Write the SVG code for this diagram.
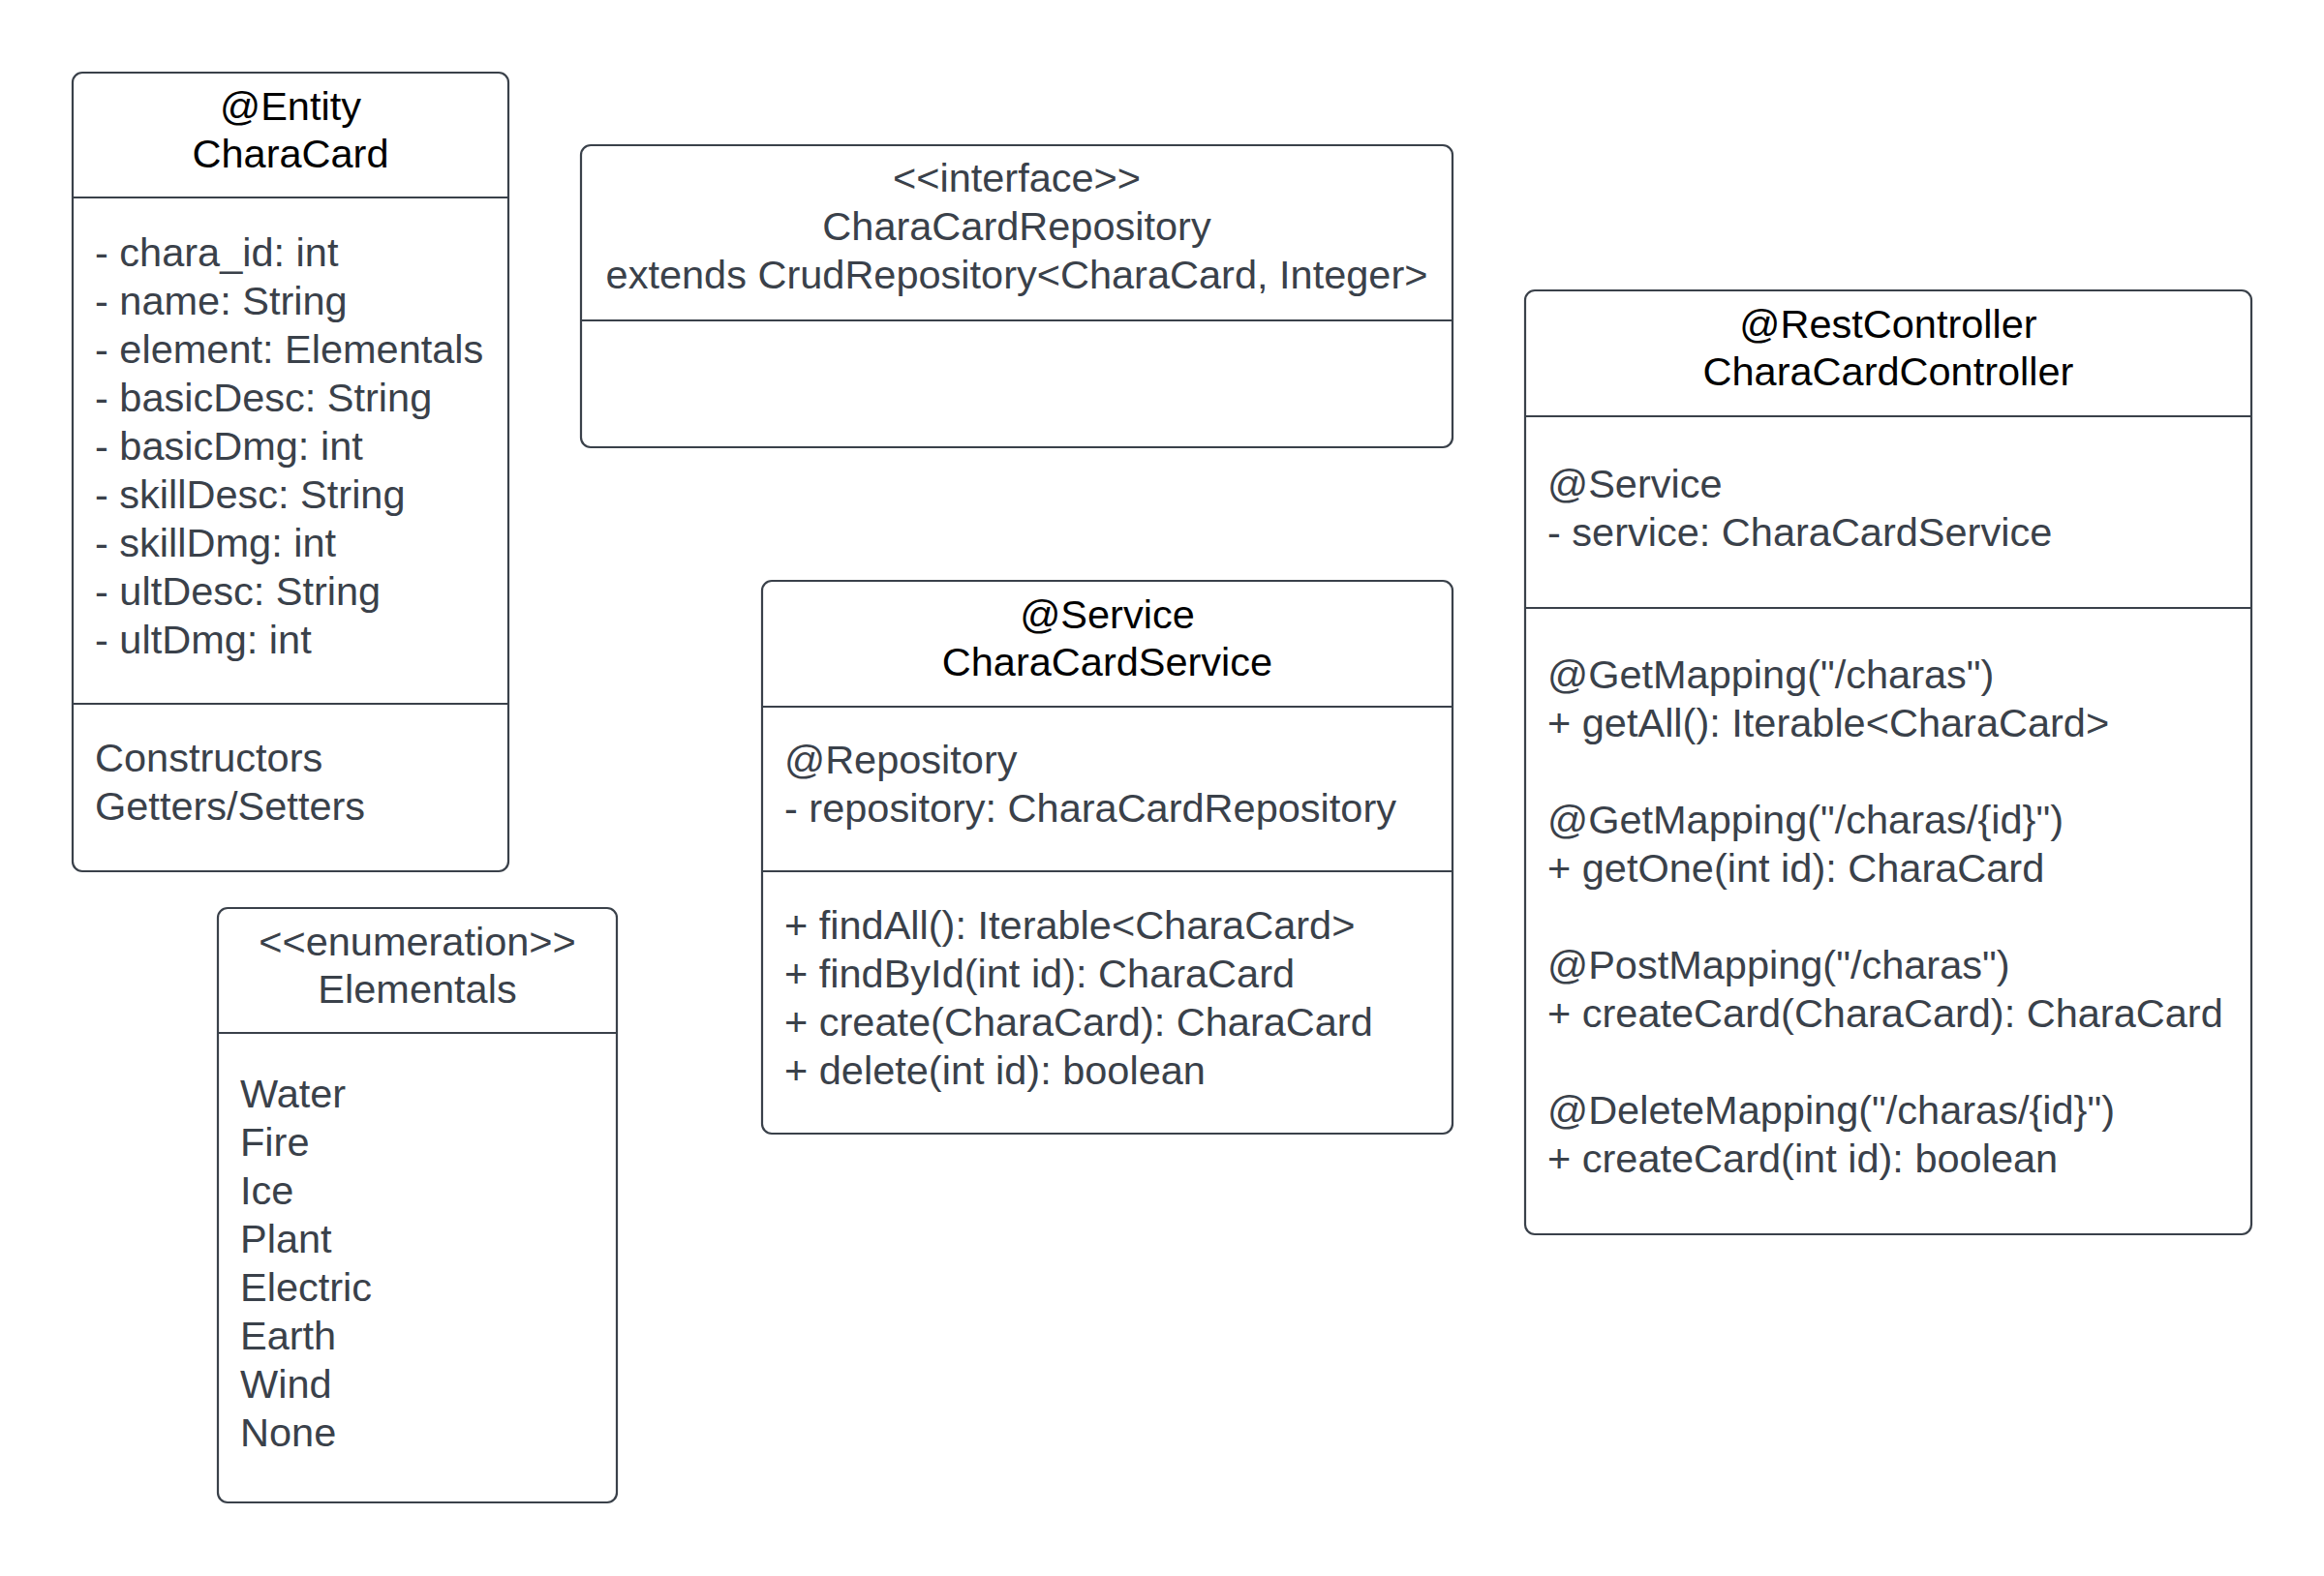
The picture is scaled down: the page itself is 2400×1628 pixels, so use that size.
<svg xmlns="http://www.w3.org/2000/svg" width="2400" height="1628" viewBox="0 0 2400 1628">
<style>
.box{fill:#ffffff;stroke:#3a414a;stroke-width:2.2}
.div{stroke:#3a414a;stroke-width:2.2}
.h{font-family:"Liberation Sans",Arial,sans-serif;font-size:41.5px;fill:#000000;text-anchor:middle}
.hg{font-family:"Liberation Sans",Arial,sans-serif;font-size:41.5px;fill:#3a414a;text-anchor:middle}
.t{font-family:"Liberation Sans",Arial,sans-serif;font-size:41.5px;fill:#3a414a}
</style>
<rect width="2400" height="1628" fill="#ffffff"/>
<g id="connectors"></g>
<g id="charaCard">
<rect class="box" x="75" y="75" width="450" height="825" rx="10"/>
<line class="div" x1="75" y1="204" x2="525" y2="204"/>
<line class="div" x1="75" y1="727" x2="525" y2="727"/>
<text class="h" x="300" y="124">@Entity</text>
<text class="h" x="300" y="173">CharaCard</text>
<text class="t" x="98" y="275">- chara_id: int</text>
<text class="t" x="98" y="325">- name: String</text>
<text class="t" x="98" y="375">- element: Elementals</text>
<text class="t" x="98" y="425">- basicDesc: String</text>
<text class="t" x="98" y="475">- basicDmg: int</text>
<text class="t" x="98" y="525">- skillDesc: String</text>
<text class="t" x="98" y="575">- skillDmg: int</text>
<text class="t" x="98" y="625">- ultDesc: String</text>
<text class="t" x="98" y="675">- ultDmg: int</text>
<text class="t" x="98" y="797">Constructors</text>
<text class="t" x="98" y="847">Getters/Setters</text>
</g>
<g id="repository">
<rect class="box" x="600" y="150" width="900" height="312" rx="10"/>
<line class="div" x1="600" y1="331" x2="1500" y2="331"/>
<text class="hg" x="1050" y="198">&lt;&lt;interface&gt;&gt;</text>
<text class="hg" x="1050" y="248">CharaCardRepository</text>
<text class="hg" x="1050" y="298">extends CrudRepository&lt;CharaCard, Integer&gt;</text>
</g>
<g id="controller">
<rect class="box" x="1575" y="300" width="750" height="975" rx="10"/>
<line class="div" x1="1575" y1="430" x2="2325" y2="430"/>
<line class="div" x1="1575" y1="628" x2="2325" y2="628"/>
<text class="h" x="1950" y="349">@RestController</text>
<text class="h" x="1950" y="398">CharaCardController</text>
<text class="t" x="1598" y="514">@Service</text>
<text class="t" x="1598" y="564">- service: CharaCardService</text>
<text class="t" x="1598" y="711">@GetMapping("/charas")</text>
<text class="t" x="1598" y="761">+ getAll(): Iterable&lt;CharaCard&gt;</text>
<text class="t" x="1598" y="861">@GetMapping("/charas/{id}")</text>
<text class="t" x="1598" y="911">+ getOne(int id): CharaCard</text>
<text class="t" x="1598" y="1011">@PostMapping("/charas")</text>
<text class="t" x="1598" y="1061">+ createCard(CharaCard): CharaCard</text>
<text class="t" x="1598" y="1161">@DeleteMapping("/charas/{id}")</text>
<text class="t" x="1598" y="1211">+ createCard(int id): boolean</text>
</g>
<g id="service">
<rect class="box" x="787" y="600" width="713" height="571" rx="10"/>
<line class="div" x1="787" y1="730" x2="1500" y2="730"/>
<line class="div" x1="787" y1="900" x2="1500" y2="900"/>
<text class="h" x="1143.5" y="649">@Service</text>
<text class="h" x="1143.5" y="698">CharaCardService</text>
<text class="t" x="810" y="799">@Repository</text>
<text class="t" x="810" y="849">- repository: CharaCardRepository</text>
<text class="t" x="810" y="970">+ findAll(): Iterable&lt;CharaCard&gt;</text>
<text class="t" x="810" y="1020">+ findById(int id): CharaCard</text>
<text class="t" x="810" y="1070">+ create(CharaCard): CharaCard</text>
<text class="t" x="810" y="1120">+ delete(int id): boolean</text>
</g>
<g id="elementals">
<rect class="box" x="225" y="938" width="412" height="614" rx="10"/>
<line class="div" x1="225" y1="1067" x2="637" y2="1067"/>
<text class="hg" x="431" y="987">&lt;&lt;enumeration&gt;&gt;</text>
<text class="hg" x="431" y="1036">Elementals</text>
<text class="t" x="248" y="1144">Water</text>
<text class="t" x="248" y="1194">Fire</text>
<text class="t" x="248" y="1244">Ice</text>
<text class="t" x="248" y="1294">Plant</text>
<text class="t" x="248" y="1344">Electric</text>
<text class="t" x="248" y="1394">Earth</text>
<text class="t" x="248" y="1444">Wind</text>
<text class="t" x="248" y="1494">None</text>
</g>
</svg>
